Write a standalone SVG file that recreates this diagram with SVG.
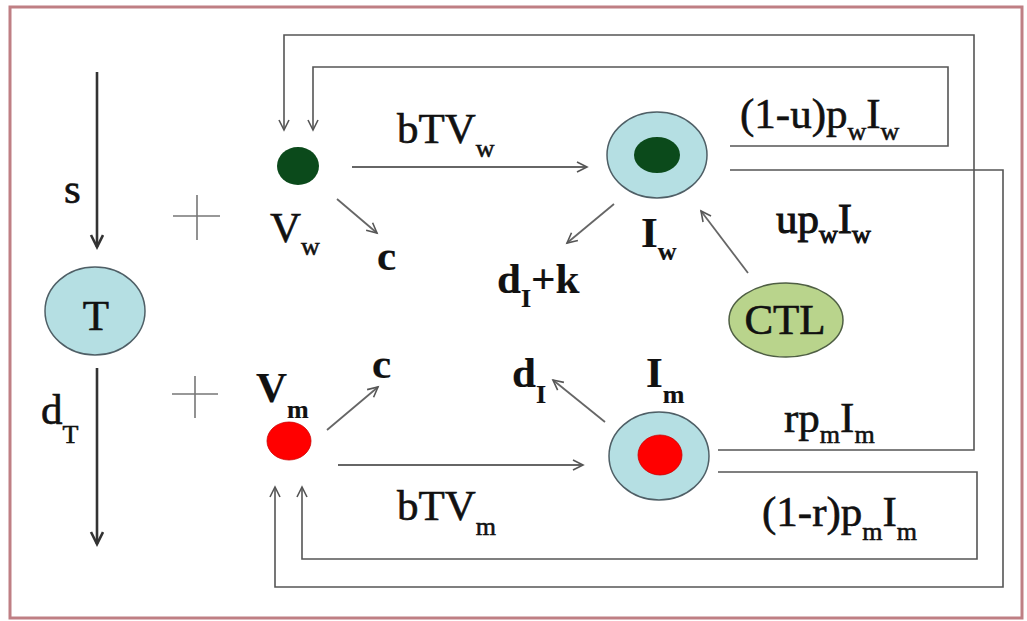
<svg xmlns="http://www.w3.org/2000/svg" width="1027" height="621" viewBox="0 0 1027 621">
<defs>
<style>
.t{font-family:"Liberation Serif","Times New Roman",serif;font-size:43px;fill:#111;stroke:#111;stroke-width:0.6}
.b{font-weight:bold;stroke-width:0.2}
.sub{font-size:26px}
.fb{fill:none;stroke:#555;stroke-width:1.6}
.ar{fill:none;stroke:#666;stroke-width:1.8}
.thick{fill:none;stroke:#333;stroke-width:2.6}
.plus{fill:none;stroke:#777;stroke-width:1.6}
.cell{fill:#b5dfe3;stroke:#4f5f66;stroke-width:1.5}
</style>
<marker id="ah" markerUnits="userSpaceOnUse" markerWidth="14" markerHeight="14" refX="11" refY="6" orient="auto">
<path d="M1,1 L11,6 L1,11" fill="none" stroke="#555" stroke-width="1.6"/>
</marker>
<marker id="ahk" markerUnits="userSpaceOnUse" markerWidth="16" markerHeight="16" refX="13" refY="7" orient="auto">
<path d="M1,1 L13,7 L1,13" fill="none" stroke="#333" stroke-width="2.6"/>
</marker>
</defs>
<rect x="0" y="0" width="1027" height="621" fill="#fff"/>
<rect x="10" y="7" width="1012" height="611" fill="none" stroke="#bf7f84" stroke-width="3"/>

<g id="connectors">
<path class="thick" d="M97,72 V247" marker-end="url(#ahk)"/>
<path class="thick" d="M97,368 V544" marker-end="url(#ahk)"/>
<path class="ar" d="M352,167 H587" marker-end="url(#ah)"/>
<path class="ar" d="M338,465 H583" marker-end="url(#ah)"/>
<path class="ar" d="M337,199 L377,233" marker-end="url(#ah)"/>
<path class="ar" d="M327,430 L378,387" marker-end="url(#ah)"/>
<path class="ar" d="M614,204 L567,243" marker-end="url(#ah)"/>
<path class="ar" d="M605,422 L553,380" marker-end="url(#ah)"/>
<path class="ar" d="M748,273 L701,211" marker-end="url(#ah)"/>
<path class="fb" d="M730,146 H948 V67 H313 V130" marker-end="url(#ah)"/>
<path class="fb" d="M718,450 H974 V35 H284 V130" marker-end="url(#ah)"/>
<path class="fb" d="M730,170 H1003 V587 H275 V487" marker-end="url(#ah)"/>
<path class="fb" d="M718,472 H977 V559 H302 V487" marker-end="url(#ah)"/>
</g>

<g id="node-T">
<ellipse class="cell" cx="95" cy="311" rx="50" ry="44"/>
<text class="t" x="96" y="330" text-anchor="middle">T</text>
</g>
<g id="label-s"><text class="t" x="64" y="203">s</text></g>
<g id="label-dT"><text class="t" x="41" y="424">d<tspan class="sub" dy="19">T</tspan></text></g>
<g id="plus-top"><path class="plus" d="M173,216 H220 M197,195 V240"/></g>
<g id="plus-bottom"><path class="plus" d="M172,394 H218 M195,376 V418"/></g>

<g id="node-Vw">
<ellipse cx="298" cy="166" rx="21" ry="19" fill="#0b4a1b"/>
<text class="t" x="270" y="242">V<tspan class="sub" dy="13">w</tspan></text>
</g>
<g id="node-Vm">
<ellipse cx="289" cy="441" rx="22" ry="19" fill="#ff0000" stroke="#c00" stroke-width="0.8"/>
<text class="t b" x="256" y="402">V<tspan class="sub" dy="16">m</tspan></text>
</g>
<g id="label-c-top"><text class="t b" x="377" y="270">c</text></g>
<g id="label-c-bottom"><text class="t b" x="372" y="378">c</text></g>
<g id="label-bTVw"><text class="t" x="397" y="143">bTV<tspan class="sub" dy="14">w</tspan></text></g>
<g id="label-bTVm"><text class="t" x="397" y="520">bTV<tspan class="sub" dy="15">m</tspan></text></g>

<g id="node-Iw">
<ellipse class="cell" cx="657" cy="155" rx="50" ry="43"/>
<ellipse cx="657" cy="155" rx="23" ry="18" fill="#0b4a1b"/>
<text class="t b" x="641" y="247">I<tspan class="sub" dy="13">w</tspan></text>
</g>
<g id="node-Im">
<ellipse class="cell" cx="659" cy="456" rx="50" ry="44"/>
<ellipse cx="660" cy="455" rx="22" ry="20" fill="#ff0000" stroke="#c00" stroke-width="0.8"/>
<text class="t b" x="646" y="387">I<tspan class="sub" dy="16">m</tspan></text>
</g>
<g id="label-dIk"><text class="t b" x="497" y="293">d<tspan class="sub" dy="14">I</tspan><tspan dy="-14">+k</tspan></text></g>
<g id="label-dI"><text class="t b" x="512" y="387">d<tspan class="sub" dy="16">I</tspan></text></g>

<g id="node-CTL">
<ellipse cx="786" cy="320" rx="57" ry="37" fill="#b9d48c" stroke="#4f5f44" stroke-width="1.5"/>
<text class="t" x="785" y="334" text-anchor="middle">CTL</text>
</g>

<g id="label-1upwIw"><text class="t" x="740" y="128">(1-u)p<tspan class="sub" dy="12">w</tspan><tspan dy="-12">I</tspan><tspan class="sub" dy="12">w</tspan></text></g>
<g id="label-upwIw"><text class="t" x="776" y="233" style="stroke-width:1">up<tspan class="sub" dy="10">w</tspan><tspan dy="-10">I</tspan><tspan class="sub" dy="10">w</tspan></text></g>
<g id="label-rpmIm"><text class="t" x="784" y="432">rp<tspan class="sub" dy="11">m</tspan><tspan dy="-11">I</tspan><tspan class="sub" dy="11">m</tspan></text></g>
<g id="label-1rpmIm"><text class="t" x="762" y="526">(1-r)p<tspan class="sub" dy="14">m</tspan><tspan dy="-14">I</tspan><tspan class="sub" dy="14">m</tspan></text></g>
</svg>
